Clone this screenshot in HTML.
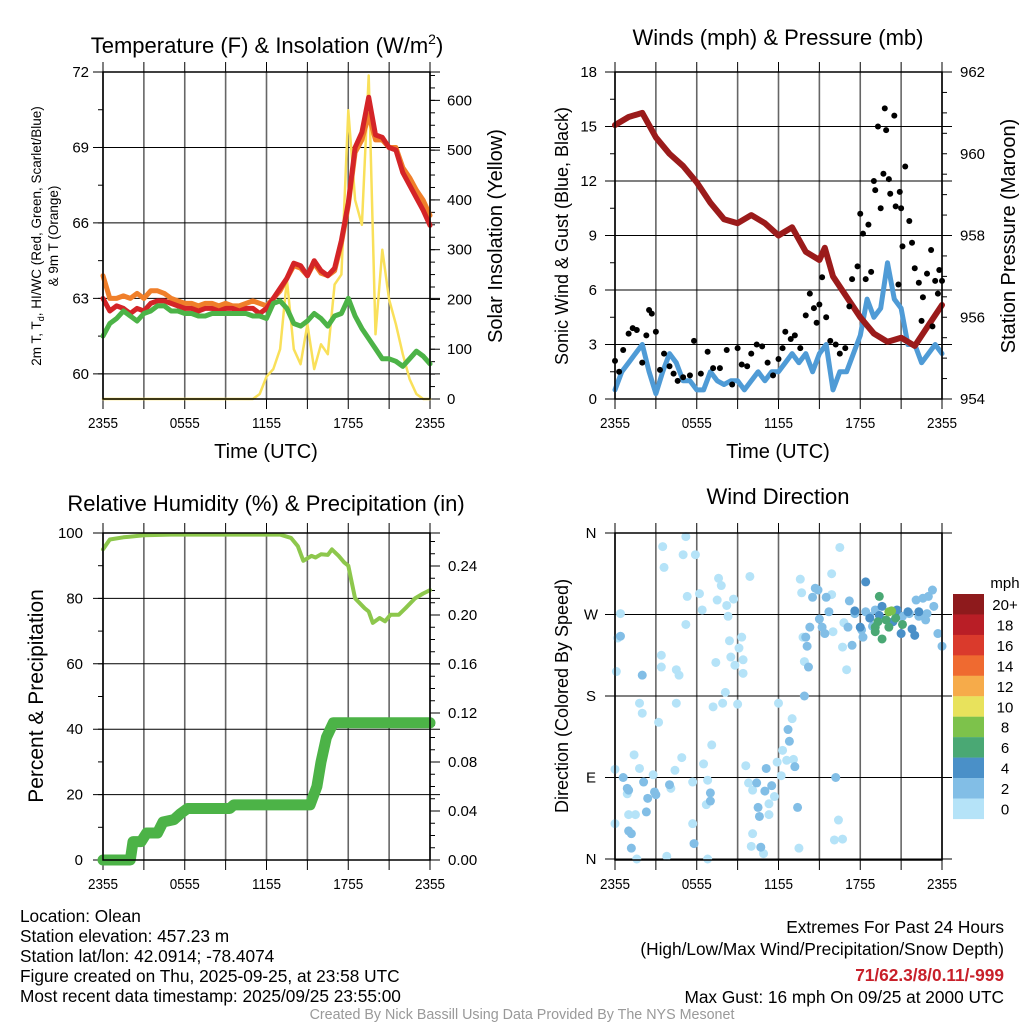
<!DOCTYPE html>
<html><head><meta charset="utf-8"><style>
html,body{margin:0;padding:0;background:#fff;}
svg{display:block;font-family:"Liberation Sans",sans-serif;}
</style></head><body>
<svg id="c" width="1024" height="1024" viewBox="0 0 1024 1024" xmlns="http://www.w3.org/2000/svg">
<rect width="1024" height="1024" fill="#fff"/>
<g id="L"></g>
<text x="267" y="53" font-size="22" text-anchor="middle">Temperature (F) &amp; Insolation (W/m<tspan dy="-9" font-size="14">2</tspan><tspan dy="9">)</tspan></text>
<text x="778" y="45" font-size="22" text-anchor="middle">Winds (mph) &amp; Pressure (mb)</text>
<text x="266" y="511" font-size="22" text-anchor="middle">Relative Humidity (%) &amp; Precipitation (in)</text>
<text x="778" y="504" font-size="22" text-anchor="middle">Wind Direction</text>
<text transform="translate(41,236) rotate(-90)" font-size="13.5" text-anchor="middle">2m T, T<tspan dy="3" font-size="9">d</tspan><tspan dy="-3">, HI/WC (Red, Green, Scarlet/Blue)</tspan></text>
<text transform="translate(58,236) rotate(-90)" font-size="13.5" text-anchor="middle">&amp; 9m T (Orange)</text>
<text transform="translate(502,236) rotate(-90)" font-size="20" text-anchor="middle">Solar Insolation (Yellow)</text>
<text transform="translate(568,236) rotate(-90)" font-size="18" text-anchor="middle">Sonic Wind &amp; Gust (Blue, Black)</text>
<text transform="translate(1015,236) rotate(-90)" font-size="20" text-anchor="middle">Station Pressure (Maroon)</text>
<text transform="translate(43,696) rotate(-90)" font-size="21" text-anchor="middle">Percent &amp; Precipitation</text>
<text transform="translate(568,696) rotate(-90)" font-size="18" text-anchor="middle">Direction (Colored By Speed)</text>
<text x="266" y="458" font-size="20" text-anchor="middle">Time (UTC)</text>
<text x="778" y="458" font-size="20" text-anchor="middle">Time (UTC)</text>
<g font-size="18" transform="scale(0.96,1)">
<text x="20.8" y="922">Location: Olean</text>
<text x="20.8" y="942">Station elevation: 457.23 m</text>
<text x="20.8" y="962">Station lat/lon: 42.0914; -78.4074</text>
<text x="20.8" y="982">Figure created on Thu, 2025-09-25, at 23:58 UTC</text>
<text x="20.8" y="1002">Most recent data timestamp: 2025/09/25 23:55:00</text>
</g>
<g font-size="18" text-anchor="end" transform="scale(0.96,1)">
<text x="1045.8" y="933">Extremes For Past 24 Hours</text>
<text x="1045.8" y="955">(High/Low/Max Wind/Precipitation/Snow Depth)</text>
<text x="1045.8" y="981" fill="#c8202a" font-weight="bold">71/62.3/8/0.11/-999</text>
<text x="1045.8" y="1003">Max Gust: 16 mph On 09/25 at 2000 UTC</text>
</g>
<text x="522" y="1019" font-size="14.3" fill="#999" text-anchor="middle">Created By Nick Bassill Using Data Provided By The NYS Mesonet</text>
</svg>
<script>
// ---- data ----
const tempHours=[0,0.5,1,1.5,2,2.5,3,3.5,4,4.5,5,5.5,6,6.5,7,7.5,8,8.5,9,9.5,10,10.5,11,11.5,12,12.5,13,13.5,14,14.5,15,15.5,16,16.5,17,17.5,18,18.5,19,19.5,20,20.5,21,21.5,22,22.5,23,23.5,24];
const tempRed=[63.0,62.5,62.7,62.6,62.4,62.6,62.5,62.8,62.9,62.9,62.8,62.7,62.6,62.6,62.5,62.6,62.6,62.5,62.6,62.6,62.5,62.6,62.6,62.4,62.6,63.0,63.4,63.8,64.4,64.3,63.9,64.5,64.1,63.9,64.2,65.3,66.8,69.0,69.6,71.0,69.5,69.4,69.0,68.9,68.0,67.5,67.0,66.5,65.9];
const tempOrange=[63.9,63.0,63.0,63.1,63.0,63.2,63.0,63.3,63.3,63.2,63.0,62.9,62.8,62.8,62.7,62.8,62.8,62.7,62.8,62.7,62.7,62.8,62.9,62.8,62.7,63.0,63.3,63.8,64.3,64.2,63.9,64.4,64.0,63.9,64.1,65.2,66.7,68.8,69.3,70.3,69.3,69.3,69.0,69.0,68.2,67.8,67.3,66.9,66.3];
const dewGreen=[61.5,62.0,62.2,62.5,62.3,62.1,62.4,62.5,62.7,62.7,62.5,62.5,62.4,62.4,62.3,62.3,62.4,62.4,62.4,62.4,62.4,62.4,62.3,62.3,62.2,62.8,62.9,62.6,62.0,61.9,62.1,62.4,62.2,61.9,62.3,62.4,63.0,62.3,61.8,61.4,61.0,60.6,60.6,60.5,60.3,60.6,60.9,60.7,60.4];
const solar=[0,0,0,0,0,0,0,0,0,0,0,0,0,0,0,0,0,0,0,0,0,0,0,10,45,60,100,240,100,70,150,60,110,90,230,250,580,400,350,650,130,300,200,150,90,40,10,0,0];
const presHours=[0,1,2,3,4,5,6,7,8,9,10,11,12,13,14,15,15.4,16,17,18,19,20,21,22,23,24];
const pressure=[960.7,960.9,961.0,960.4,960.0,959.7,959.3,958.8,958.4,958.3,958.5,958.3,958.0,958.2,957.6,957.4,957.7,957.0,956.5,956.0,955.6,955.4,955.5,955.3,955.8,956.3];
const windSpeed=[0.5,1.5,2,2.5,3,1.5,0.3,1.5,2.5,2,1,1,0.5,0.5,1.5,1,0.8,1,1,0.5,1,1.5,1,1.5,1.5,2,2.5,2,2.5,1.5,2.5,3,0.5,1.5,1.5,2.5,3.5,5.5,4.5,5,7.5,5.5,5,3,3,2,2.5,3,2.5];
const gustHours=[0,0.3,0.6,1,1.3,1.6,2,2.3,2.5,2.7,3,3.3,3.6,4,4.3,4.6,5,5.5,5.8,6.3,6.8,7.2,7.7,8.2,8.6,9,9.3,9.7,10,10.4,10.8,11.2,11.6,12,12.3,12.5,12.9,13.2,13.6,14,14.3,14.6,14.8,15,15.2,15.5,15.8,16.2,16.5,16.9,17.2,17.4,17.8,18,18.2,18.4,18.6,18.8,19,19.1,19.3,19.5,19.7,19.8,19.9,20.1,20.2,20.5,20.6,20.9,21.1,21.3,21.6,21.8,22,22.3,22.6,22.9,23.2,23.5,23.8,24,21,20.8,22.5,23.3,23.7];
const gustVals=[2.1,1.5,2.7,3.6,3.9,3.8,2,3.5,4.9,4.7,3.7,1.6,2.5,1.8,1.4,1.0,1.2,1.3,3.2,1.4,2.6,1.7,1.7,2.7,0.8,2.8,1.9,1.8,2.5,3,2.9,2,1.3,2.2,2.8,3.7,3.3,3.5,2.8,4.6,5.8,5.0,4.2,5.2,6.7,4.5,3.2,3.0,2.5,2.8,5.1,6.6,7.3,10.2,9.1,6.6,9.6,7.0,12,11.5,15.0,10.5,12.4,16.0,14.8,12.1,11.3,15.6,10.6,11.4,8.4,12.8,9.8,8.6,7.2,6.4,5.6,6.9,8.2,6.5,7.1,6.5,10.5,6.3,4.3,4.0,5.8];
const rhHours=[0,0.5,1.5,3,5,13,13.8,14.3,14.7,15.3,15.6,16,16.5,16.8,17.3,17.7,18,18.2,18.5,19.2,19.5,19.8,20.3,20.7,21.1,21.7,22.2,22.9,23.5,24];
const rhVals=[95,98,98.7,99.3,99.5,99.5,98.5,96,91.5,93,92.5,93.5,93.3,95,93,91,90,86,80,77,76,72.5,74,73,75,75,77,80,81.5,82.5];
const precipHours=[0,2.0,2.2,2.8,3.2,4.0,4.4,5.2,5.7,6.2,9.3,9.6,15.2,15.7,16.0,16.4,16.9,24];
const precipVals=[0,0,0.015,0.015,0.022,0.022,0.031,0.033,0.038,0.042,0.042,0.045,0.045,0.06,0.08,0.10,0.112,0.112];
const dirHours=[0.4,0.2,0.1,0,0,0.9,1.4,1.8,1.8,2.0,1.6,1.0,1.5,2.8,3.2,3.4,3.4,3.5,3.6,3.8,4.5,4.7,4.5,4.9,4.4,4.1,5.0,5.2,5.2,5.3,5.7,5.7,5.9,6.2,6.4,6.5,6.8,6.7,6.8,7.1,7.2,7.4,7.5,7.6,7.8,8.2,8.3,8.4,8.5,7.9,8.1,8.7,8.8,9.0,9.1,9.3,9.4,9.4,9.9,9.6,9.8,10.1,10.1,10.0,10.9,11.3,11.3,11.7,11.9,12.0,12.2,12.3,12.6,13.0,13.1,13.6,13.7,13.5,13.8,13.9,15.9,15.9,16.0,16.5,16.7,16.8,17.0,16.1,16.7,16.4,
0.4,0.6,0.9,1.0,1.0,1.2,1.2,2.0,2.1,2.3,2.4,2.9,3.0,4.0,5.8,7.0,7.0,10.4,10.5,10.6,10.7,11.0,11.1,11.5,12.7,12.8,13.2,13.4,14.0,14.1,14.2,14.3,14.5,14.7,14.9,15.0,15.2,15.4,15.5,15.7,17.2,17.1,17.4,17.6,18.1,18.2,18.4,18.7,18.9,19.1,21.1,21.6,22.1,22.6,22.8,23.0,23.3,23.4,23.7,24.0,22.9,16.2,13.9,22.3,
18.4,17.6,18.0,18.7,19.6,20.4,20.7,21.0,21.5,21.8,22.0,22.3,19.4,
19.4,19.1,19.1,19.3,19.6,19.9,20.1,20.6,21.1,20.1,20.3];
const dirDeg=[271,244,207,39,99,72,115,100,172,161,0,49,49,93,151,212,225,345,322,3,209,203,172,112,98,78,336,356,259,290,85,39,336,293,275,105,87,60,0,126,168,217,286,310,302,280,268,241,223,172,184,287,214,171,233,245,220,205,312,103,84,76,28,14,6,61,49,69,107,172,92,120,109,155,110,309,294,12,245,218,315,292,251,344,234,261,209,21,22,43,
246,90,78,76,31,28,12,203,85,52,67,74,71,82,17,73,64,84,57,47,13,75,100,81,143,130,102,57,245,235,212,256,289,299,297,265,256,249,289,273,285,256,236,271,253,245,273,268,257,275,268,271,286,288,264,290,297,279,249,235,271,90,180,268,
306,274,256,266,279,262,275,249,273,254,247,273,269,
290,256,251,262,243,264,256,266,259,273,274];
const dirSpeed=[].concat(Array(90).fill(1),Array(64).fill(3),Array(13).fill(5),Array(9).fill(7),Array(2).fill(9));
const tempTicks=[60,63,66,69,72], solarTicks=[0,100,200,300,400,500,600];
const windTicks=[0,3,6,9,12,15,18], presTicks=[954,956,958,960,962];
const rhTicks=[0,20,40,60,80,100], precipTicks=["0.00","0.04","0.08","0.12","0.16","0.20","0.24"];
const dirLabels=["N","E","S","W","N"];
const timeLabels=["2355","0555","1155","1755","2355"];
const cbLabels=["20+","18","16","14","12","10","8","6","4","2","0"];
const cbColors=["#8e1a1c","#b91e26","#da3a2c","#ef6a30","#f6ab4a","#e8e25c","#7dc24b","#4aa874","#4a90c8","#82bee6","#b5e3f8"];

const NS="http://www.w3.org/2000/svg";
const root=document.getElementById('L');
function mk(tag,attrs,parent){const e=document.createElementNS(NS,tag);for(const k in attrs)e.setAttribute(k,attrs[k]);(parent||root).appendChild(e);return e;}
function lin(d0,d1,r0,r1){return v=>r0+(v-d0)*(r1-r0)/(d1-d0);}
function speedColor(s){const i=Math.min(10,Math.floor(s/2));return cbColors[10-i];}

function frame(x0,y0,name){
  const g=mk('g',{});
  
  
  const xs=lin(0,24,x0,x0+327);
  for(let i=0;i<=8;i++){const x=xs(i*3);
    mk('line',{x1:x,y1:y0,x2:x,y2:y0+327,stroke:'#666','stroke-width':1.6},g);
    mk('line',{x1:x,y1:y0-10,x2:x,y2:y0,stroke:'#000','stroke-width':1},g);
    mk('line',{x1:x,y1:y0+327,x2:x,y2:y0+337,stroke:'#000','stroke-width':1},g);}
  for(let i=0;i<timeLabels.length;i++){const t=mk('text',{transform:'translate('+xs(i*6)+','+(y0+356)+') scale(0.9,1)','font-size':15,'text-anchor':'middle'},g);t.textContent=timeLabels[i];
    
    }
  return {g,xs};
}
function hgrid(g,x0,y){mk('line',{x1:x0-10,y1:y,x2:x0+327+10,y2:y,stroke:'#000','stroke-width':1},g);}
function poly(pts,attrs,name){const p=mk('polyline',Object.assign({points:pts.map(a=>a[0].toFixed(1)+','+a[1].toFixed(1)).join(' '),fill:'none','stroke-linejoin':'round','stroke-linecap':'round'},attrs));
  
  
  return p;}
function ytext(g,x,y,s,anchor,size){const t=mk('text',{x:x,y:y+5,'font-size':size||15,'text-anchor':anchor},g);t.textContent=s;
  
  }

// ---- Panel 1 ----
(function(){
  const x0=103,y0=72;const {g,xs}=frame(x0,y0,'temperature-panel');
  const ys=lin(59,72,399,72), ss=lin(0,657,399,72);
  tempTicks.forEach(v=>{hgrid(g,x0,ys(v));ytext(g,x0-14,ys(v),String(v),'end');});
  for(let v=60;v<=72;v+=1.5){mk('line',{x1:x0-5,y1:ys(v),x2:x0,y2:ys(v),stroke:'#000'},g);}
  solarTicks.forEach(v=>{mk('line',{x1:x0+327,y1:ss(v),x2:x0+337,y2:ss(v),stroke:'#000'},g);ytext(g,x0+344,ss(v),String(v),'start');});
  for(let v=0;v<=650;v+=25){mk('line',{x1:x0+327,y1:ss(v),x2:x0+332,y2:ss(v),stroke:'#000'},g);}
  poly(tempHours.map((h,i)=>[xs(h),ss(solar[i])]),{stroke:'#f9e05a','stroke-width':2.5},'solar-line');
  poly(tempHours.map((h,i)=>[xs(h),ys(tempOrange[i])]),{stroke:'#f07f2a','stroke-width':5},'temp-9m-line');
  poly(tempHours.map((h,i)=>[xs(h),ys(tempRed[i])]),{stroke:'#d42427','stroke-width':5},'temp-2m-line');
  poly(tempHours.map((h,i)=>[xs(h),ys(dewGreen[i])]),{stroke:'#4cb347','stroke-width':5},'dewpoint-line');
  mk('rect',{x:x0,y:y0,width:327,height:327,fill:'none',stroke:'#000','stroke-width':1.5});
})();

// ---- Panel 2 ----
(function(){
  const x0=615,y0=72;const {g,xs}=frame(x0,y0,'winds-panel');
  const ws=lin(0,18,399,72), ps=lin(954,962,399,72);
  windTicks.forEach(v=>{hgrid(g,x0,ws(v));ytext(g,x0-18,ws(v),String(v),'end');});
  for(let v=0;v<=18;v+=1.5){mk('line',{x1:x0-5,y1:ws(v),x2:x0,y2:ws(v),stroke:'#000'},g);}
  presTicks.forEach(v=>{ytext(g,x0+345,ps(v),String(v),'start');});
  for(let v=954;v<=962;v+=0.5){mk('line',{x1:x0+327,y1:ps(v),x2:x0+332,y2:ps(v),stroke:'#000'},g);}
  poly(tempHours.map((h,i)=>[xs(h),ws(windSpeed[i])]),{stroke:'#4f9bd6','stroke-width':5},'wind-speed-line');
  poly(presHours.map((h,i)=>[xs(h),ps(pressure[i])]),{stroke:'#9b1b1b','stroke-width':6},'pressure-line');
  gustHours.forEach((h,i)=>{const c=mk('circle',{cx:xs(h),cy:ws(gustVals[i]),r:3,fill:'#000'});
    
    });
  mk('rect',{x:x0,y:y0,width:327,height:327,fill:'none',stroke:'#000','stroke-width':1.5});
})();

// ---- Panel 3 ----
(function(){
  const x0=103,y0=533;const {g,xs}=frame(x0,y0,'humidity-panel');
  const rs=lin(0,100,860,533), qs=lin(0,0.24,860,566);
  rhTicks.forEach(v=>{hgrid(g,x0,rs(v));ytext(g,x0-20,rs(v),String(v),'end');});
  for(let v=0;v<=100;v+=10){mk('line',{x1:x0-5,y1:rs(v),x2:x0,y2:rs(v),stroke:'#000'},g);}
  precipTicks.forEach(v=>{const y=qs(parseFloat(v));mk('line',{x1:x0+327,y1:y,x2:x0+337,y2:y,stroke:'#000'},g);ytext(g,x0+345,y,v,'start');});
  for(let v=0;v<=0.265;v+=0.01){mk('line',{x1:x0+327,y1:qs(v),x2:x0+332,y2:qs(v),stroke:'#000'},g);}
  poly(rhHours.map((h,i)=>[xs(h),rs(rhVals[i])]),{stroke:'#8dc74c','stroke-width':4},'humidity-line');
  poly(precipHours.map((h,i)=>[xs(h),qs(precipVals[i])]),{stroke:'#4cb347','stroke-width':11},'precipitation-line');
  mk('rect',{x:x0,y:y0,width:327,height:327,fill:'none',stroke:'#000','stroke-width':1.5});
})();

// ---- Panel 4 ----
(function(){
  const x0=615,y0=533;const {g,xs}=frame(x0,y0,'wind-direction-panel');
  const ds=lin(0,360,859,533);
  dirLabels.forEach((s,i)=>{const y=ds(i*90);hgrid(g,x0,y);const t=mk('text',{x:591,y:y+5,'font-size':15,'text-anchor':'middle'},g);t.textContent=s;
    
    });
  dirHours.forEach((h,i)=>{const c=mk('circle',{cx:xs(h),cy:ds(dirDeg[i]),r:4.5,fill:speedColor(dirSpeed[i])});
    
    });
  mk('rect',{x:x0,y:y0,width:327,height:327,fill:'none',stroke:'#000','stroke-width':1.5});
  const cb=mk('g',{});
  
  
  const t0=mk('text',{x:1005,y:588,'font-size':15,'text-anchor':'middle'},cb);t0.textContent='mph';
  cbColors.forEach((c,i)=>{const y=594+i*20.45;mk('rect',{x:953,y:y,width:31,height:20.6,fill:c},cb);
    const t=mk('text',{x:1005,y:y+16,'font-size':15,'text-anchor':'middle'},cb);t.textContent=cbLabels[i];
    
    });
})();
</script>
</body></html>
